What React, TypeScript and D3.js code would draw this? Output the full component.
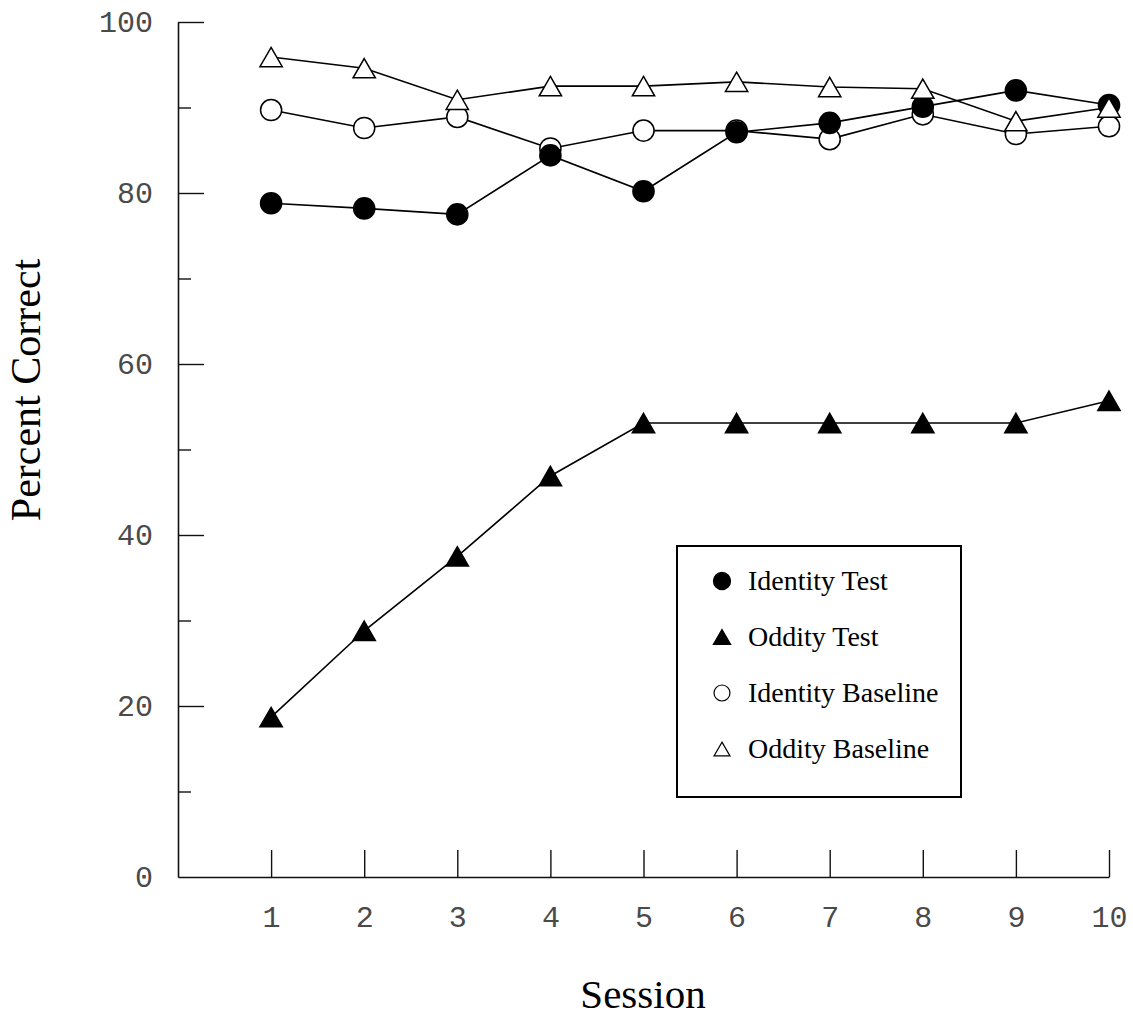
import React, { useEffect, useRef } from 'react'
import * as d3 from 'd3'

const sessions = [1, 2, 3, 4, 5, 6, 7, 8, 9, 10]
const identityTest = [78.8, 78.2, 77.5, 84.4, 80.2, 87.1, 88.2, 90.1, 92.0, 90.3]
const oddityTest = [18.7, 28.8, 37.5, 46.9, 53.1, 53.1, 53.1, 53.1, 53.1, 55.7]
const identityBaseline = [89.7, 87.6, 88.9, 85.2, 87.3, 87.3, 86.3, 89.2, 86.9, 87.8]
const oddityBaseline = [95.9, 94.6, 90.9, 92.5, 92.5, 93.0, 92.4, 92.2, 88.4, 90.0]
const yTicks = [0, 10, 20, 30, 40, 50, 60, 70, 80, 90, 100]
const yLabelTicks = [0, 20, 40, 60, 80, 100]
const legendNames = ['Identity Test', 'Oddity Test', 'Identity Baseline', 'Oddity Baseline']

const W = 1133
const H = 1017

const App = () => {
  const svgRef = useRef<SVGSVGElement>(null)

  useEffect(() => {
    const svg = d3.select(svgRef.current)
    svg.selectAll('*').remove()

    const x = d3.scaleLinear().domain([0, 10]).range([178, 1109])
    const y = d3.scaleLinear().domain([0, 100]).range([877, 22])

    // series in drawing order (later ones sit on top)
    const series = [
      { name: 'Identity Baseline', values: identityBaseline, shape: 'circle', filled: false },
      { name: 'Identity Test', values: identityTest, shape: 'circle', filled: true },
      { name: 'Oddity Test', values: oddityTest, shape: 'triangle', filled: true },
      { name: 'Oddity Baseline', values: oddityBaseline, shape: 'triangle', filled: false },
    ]
    const byName = Object.fromEntries(series.map((s) => [s.name, s]))

    // triangle from d3, shifted so its bounding box is centred on the point
    const triSize = 215
    const triOff = Math.sqrt(triSize / (Math.sqrt(3) * 3)) / 2
    const symbolPath = (shape: string, size: number) =>
      d3.symbol().type(shape === 'circle' ? d3.symbolCircle : d3.symbolTriangle).size(size)()

    // axes
    const yAxis = d3
      .axisLeft(y)
      .tickValues(yTicks)
      .tickSizeOuter(0)
      .tickSizeInner(-26)
      .tickPadding(25)
      .tickFormat((d) => (yLabelTicks.includes(+d) ? String(d) : ''))

    const gy = svg.append('g').attr('transform', `translate(${x(0)},0)`).call(yAxis)
    gy.selectAll('.tick line')
      .attr('x2', (d: any) => (yLabelTicks.includes(+d) ? 26 : 13))
    gy.selectAll('.tick').filter((d: any) => d === 0).select('line').remove()

    const xAxis = d3
      .axisBottom(x)
      .tickValues(sessions)
      .tickSizeOuter(0)
      .tickSizeInner(-27)
      .tickPadding(29)
      .tickFormat(d3.format('d'))

    svg.append('g').attr('transform', `translate(0,${y(0)})`).call(xAxis)

    svg.selectAll('.domain').attr('stroke', '#111').attr('stroke-width', 1.6)
    svg.selectAll('.tick line').attr('stroke', '#111').attr('stroke-width', 1.4)
    svg
      .selectAll('.tick text')
      .attr('font-family', '"Liberation Mono", monospace')
      .attr('font-size', 30)
      .attr('fill', '#4a4a4a')

    // lines
    const line = d3
      .line<number>()
      .x((_, i) => x(sessions[i]))
      .y((d) => y(d))

    series.forEach((s) => {
      svg
        .append('path')
        .datum(s.values)
        .attr('d', line)
        .attr('fill', 'none')
        .attr('stroke', '#000')
        .attr('stroke-width', 1.6)
    })

    // markers
    series.forEach((s) => {
      svg
        .append('g')
        .selectAll('path')
        .data(s.values)
        .join('path')
        .attr('d', symbolPath(s.shape, s.shape === 'circle' ? 350 : triSize))
        .attr(
          'transform',
          (d, i) => `translate(${x(sessions[i])},${y(d) + (s.shape === 'triangle' ? triOff : 0)})`
        )
        .attr('fill', s.filled ? '#000' : '#fff')
        .attr('stroke', '#000')
        .attr('stroke-width', 1.5)
    })

    // legend
    const legend = svg.append('g').attr('transform', 'translate(677,546)')
    legend
      .append('rect')
      .attr('width', 284)
      .attr('height', 251)
      .attr('fill', '#fff')
      .attr('stroke', '#000')
      .attr('stroke-width', 2)

    legendNames.forEach((name, i) => {
      const s = byName[name]
      const cy = 35 + i * 56
      const small = s.shape === 'circle' ? (s.filled ? 230 : 200) : s.filled ? 130 : 110
      const off = s.shape === 'triangle' ? Math.sqrt(small / (Math.sqrt(3) * 3)) / 2 : 0
      legend
        .append('path')
        .attr('d', symbolPath(s.shape, small))
        .attr('transform', `translate(45,${cy + off})`)
        .attr('fill', s.filled ? '#000' : '#fff')
        .attr('stroke', '#000')
        .attr('stroke-width', 1.2)
      legend
        .append('text')
        .attr('x', 71)
        .attr('y', cy + 9)
        .attr('font-family', '"Liberation Serif", "Times New Roman", serif')
        .attr('font-size', 28)
        .attr('fill', '#000')
        .text(name)
    })

    // axis titles
    svg
      .append('text')
      .attr('transform', `translate(40,390) rotate(-90)`)
      .attr('text-anchor', 'middle')
      .attr('font-family', '"Liberation Serif", "Times New Roman", serif')
      .attr('font-size', 42)
      .attr('fill', '#000')
      .text('Percent Correct')

    svg
      .append('text')
      .attr('x', 643)
      .attr('y', 1008)
      .attr('text-anchor', 'middle')
      .attr('font-family', '"Liberation Serif", "Times New Roman", serif')
      .attr('font-size', 41)
      .attr('fill', '#000')
      .text('Session')
  }, [])

  return (
    <svg
      ref={svgRef}
      width={W}
      height={H}
      style={{ position: 'absolute', left: 0, top: 0, background: '#fff', display: 'block' }}
    ></svg>
  )
}

export default App
